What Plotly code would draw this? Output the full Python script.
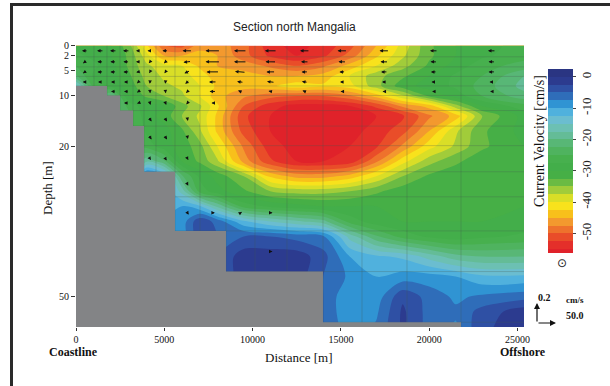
import plotly.graph_objects as go

# ---------------- data ----------------
dist_m = [0, 1000, 2000, 3000, 4000, 5000, 6000, 7000, 8000, 9500, 11000,
          12500, 14000, 15500, 17000, 18500, 20000, 21500, 23000, 25370]
depth_m = [0, 2, 4, 6, 8, 10, 12, 14, 17, 20, 23, 26, 29, 32, 35, 38, 42, 46, 50, 53, 56.5]

# along-shore current velocity (cm/s), rows = depth, cols = distance
velocity = [
    [-28, -29, -30, -34, -42, -50, -51, -46, -46, -49, -54, -56, -54, -51, -45, -39, -33, -30, -28, -27],
    [-27, -28, -30, -33, -39, -45, -45, -44, -45, -49, -53, -55, -53, -49, -43, -38, -33, -30, -28, -26],
    [-25, -27, -29, -33, -37, -39, -40, -43, -45, -46, -48, -50, -48, -44, -40, -36, -32, -29, -26, -24],
    [-22, -28, -29, -32, -36, -38, -39, -41, -44, -44, -45, -45, -44, -40, -36, -33, -30, -27, -25, -20],
    [-14, -26, -28, -31, -35, -37, -38, -40, -43, -44, -43, -41, -42, -41, -36, -31, -29, -27, -24, -19],
    [-14, -22, -20, -30, -33, -35, -37, -40, -44, -47, -49, -50, -50, -48, -44, -38, -32, -29, -25, -21],
    [-14, -22, -20, -26, -29, -30, -34, -37, -42, -50, -54, -56, -56, -55, -52, -47, -44, -36, -30, -26],
    [-14, -22, -20, -24, -29, -31, -35, -38, -43, -52, -55, -57, -57, -56, -55, -53, -48, -44, -35, -29],
    [-14, -22, -20, -24, -28, -29, -32, -37, -43, -51, -55, -57, -57, -56, -54, -51, -45, -38, -33, -29],
    [-14, -22, -20, -24, -26, -29, -31, -34, -40, -48, -54, -56, -56, -55, -53, -47, -41, -37, -33, -30],
    [-14, -22, -20, -24, -18, -22, -30, -33, -37, -46, -52, -55, -55, -54, -48, -41, -36, -33, -31, -30],
    [-14, -22, -20, -24, -5, -10, -22, -28, -31, -35, -43, -46, -46, -44, -40, -35, -32, -31, -30, -30],
    [-14, -22, -20, -24, -5, -10, -16, -26, -29, -32, -35, -36, -36, -35, -33, -31, -30, -30, -30, -30],
    [-14, -22, -20, -24, -5, -10, -10, -12, -18, -26, -28, -29, -30, -30, -30, -30, -30, -30, -30, -30],
    [-14, -22, -20, -24, -5, -10, -9, -3, -6, -12, -15, -17, -19, -26, -29, -30, -30, -30, -30, -29],
    [-14, -22, -20, -24, -5, -10, -9, -3, -5, -5, -5, -6, -7, -16, -22, -26, -28, -29, -28, -27],
    [-14, -22, -20, -24, -5, -10, -9, -3, -5, -1, -1, -1, -4, -10, -12, -13, -16, -19, -20, -20],
    [-14, -22, -20, -24, -5, -10, -9, -3, -5, -1, -1, -1, -5, -8, -10, -9, -9, -10, -12, -12],
    [-14, -22, -20, -24, -5, -10, -9, -3, -5, -1, -1, -1, -5, -10, -9, -3, -6, -8, -7, -6],
    [-14, -22, -20, -24, -5, -10, -9, -3, -5, -1, -1, -1, -5, -10, -8, -2, -6, -7, -4, -1],
    [-14, -22, -20, -24, -5, -10, -9, -3, -5, -1, -1, -1, -5, -9, -7, -2, -6, -8, -3, -1],
]

# stepped sea bottom: edges (m) and bottom depth (m) of each step
seabed_edges = [0, 1755, 2492, 3228, 3851, 5606, 8494, 13986, 21801]
seabed_depth = [8.0, 9.9, 12.9, 16.0, 25.1, 36.9, 45.0, 55.1]

# measurement cell grid
grid_x = [1019, 1755, 2492, 3228, 3851, 4530, 5606, 7022, 8494, 10136,
          11948, 13986, 16195, 18743, 21801]
grid_depth = [2.2, 4.2, 6.1, 8.0, 9.9, 12.9, 16.0, 19.9, 25.1, 30.1, 36.9, 45.0, 55.1]

# in-section current vectors (u horizontal cm/s, w vertical cm/s, + = up)
arrow_x = [510, 1387, 2123, 2860, 3539, 4190, 5068, 6314, 7758, 9315,
           11042, 12967, 15091, 17469, 20272, 23556]
arrow_depth = [1, 3.2, 5.2, 7.2, 9.1, 11.4, 14.6, 18.2, 22.5, 27.6, 33.3, 41, 50]
N = None
arrow_u = [
    [-16, -18, -18, -18, -13, -13, -16, -26, -39, -34, -32, -26, -26, -26, -21, -21],
    [-11, -16, -16, -16, -13, -6, -8, -21, -39, -34, -29, -21, -21, -21, -18, -18],
    [-11, -16, -16, -16, -12, -4, -5, -16, -34, -29, -24, -18, -16, -18, -16, -18],
    [-12, -13, -13, -13, -8, -1, -1, -12, -21, -18, -21, -16, -13, -13, -13, -13],
    [N, N, -13, -13, -8, 1, 1, -8, -18, -13, -13, -13, -10, -10, -10, -10],
    [N, N, N, -13, -8, 3, 4, -6, -8, -5, -4, -4, -4, -4, -4, -4],
    [N, N, N, N, -5, 8, 8, 2, -4, 3, -4, -4, -4, -4, -4, -4],
    [N, N, N, N, N, 8, 8, 2, -4, 3, -4, -4, -4, -4, -4, -4],
    [N, N, N, N, N, 5, 6, 4, -4, -4, -4, -4, -4, -4, -4, -4],
    [N, N, N, N, N, N, N, 4, 5, -4, -4, -4, -4, -4, -4, -4],
    [N, N, N, N, N, N, N, 6, 10, 8, 8, -4, 3, -4, -4, -4],
    [N, N, N, N, N, N, N, N, N, 3, 8, -4, 3, -4, -4, -4],
    [N, N, N, N, N, N, N, N, N, N, N, N, 3, -4, -4, -4],
]
arrow_w = [
    [0, 0, 0, 0, 0, 0, 0, 0, 0, 0, 0, 0, 0, 0, 0, 0],
    [-0.03, 0, 0, 0, 0, -0.03, -0.03, -0.01, 0, 0, 0, 0, 0, 0, 0, 0],
    [-0.03, 0, 0, 0, -0.01, -0.03, -0.03, -0.03, 0, 0.01, 0, 0, 0, 0, 0, 0],
    [0, 0, 0, 0, -0.03, -0.04, -0.04, -0.04, 0, 0.01, 0.01, 0.01, 0, 0, 0, 0],
    [N, N, 0, 0, -0.02, -0.04, -0.04, -0.03, 0, 0.02, 0.01, 0.02, 0, 0, 0, 0],
    [N, N, N, 0, -0.01, -0.04, -0.04, -0.03, 0, 0.02, 0, 0, 0, 0, 0, 0],
    [N, N, N, N, 0, -0.05, -0.05, -0.04, 0, -0.02, 0, 0, 0, 0, 0, 0],
    [N, N, N, N, N, -0.05, -0.05, -0.04, 0, -0.02, 0, 0, 0, 0, 0, 0],
    [N, N, N, N, N, -0.03, -0.04, -0.03, 0, 0, 0, 0, 0, 0, 0, 0],
    [N, N, N, N, N, N, N, -0.03, -0.02, 0, 0, 0, 0, 0, 0, 0],
    [N, N, N, N, N, N, N, -0.04, 0, 0.02, 0, 0, -0.02, 0, 0, 0],
    [N, N, N, N, N, N, N, N, N, -0.02, 0, 0, -0.02, 0, 0, 0],
    [N, N, N, N, N, N, N, N, N, N, N, N, -0.02, 0, 0, 0],
]

x_ticks = [0, 5000, 10000, 15000, 20000, 25000]
y_ticks = [0, 2, 5, 10, 20, 50]
cb_ticks = [0, -10, -20, -30, -40, -50]

# ---------------- styling ----------------
W, H = 610, 386
ML, MR, MT, MB = 76, 86, 44, 59
PW, PH = W - ML - MR, H - MT - MB
x_range = [0, 25370]
y_range = [56.05, -0.36]
SERIF = "Liberation Serif, Times New Roman, serif"
SANS = "Liberation Sans, Arial, sans-serif"

zmin, zmax = -55.7, 2.5
stops = [
    (2.5, "#2a3582"), (0, "#2c3b8f"), (-2.5, "#2f4fa3"), (-5, "#2f6cb8"),
    (-7.5, "#2e93d2"), (-10, "#4eb0de"), (-12.5, "#6bbdd2"), (-15, "#6dc0b5"),
    (-18, "#63bc94"), (-21, "#55b56d"), (-25, "#48b04f"), (-30, "#40ad47"),
    (-33, "#6cbb43"), (-35.5, "#a2cc3a"), (-38, "#d9de27"), (-40.5, "#f8e21c"),
    (-43, "#f8c11b"), (-45.5, "#f39a2e"), (-48, "#ee742c"), (-50.5, "#e94f29"),
    (-53, "#e4302a"), (-55.7, "#e0222a"),
]
colorscale = sorted([[(v - zmin) / (zmax - zmin), c] for v, c in stops])

fig = go.Figure()

fig.add_trace(go.Contour(
    x=dist_m, y=depth_m, z=velocity,
    zmin=zmin, zmax=zmax, colorscale=colorscale,
    autocontour=False,
    contours=dict(start=-55, end=0, size=2.5, coloring="fill", showlines=False),
    line=dict(width=0, smoothing=0.9),
    hoverinfo="skip",
    colorbar=dict(
        x=(548 - ML) / PW, xanchor="left", xref="paper", xpad=0, ypad=0,
        y=1 - (161 - MT) / PH, yanchor="middle",
        len=184 / PH, lenmode="fraction", thickness=25,
        outlinewidth=0, tickvals=cb_ticks, ticktext=[str(v) for v in cb_ticks],
        ticks="outside", ticklen=3, tickangle=-90,
        tickfont=dict(family=SERIF, size=13, color="#222"),
    ),
))

# cell grid lines
gx, gy = [], []
for xv in grid_x:
    gx += [xv, xv, None]
    gy += [0, 57, None]
for dv in grid_depth:
    gx += [0, x_range[1], None]
    gy += [dv, dv, None]
fig.add_trace(go.Scatter(x=gx, y=gy, mode="lines", hoverinfo="skip",
                         line=dict(color="rgba(70,90,80,0.35)", width=0.8),
                         showlegend=False))

# sea bottom
bx, by = [seabed_edges[0]], [57]
for i, dv in enumerate(seabed_depth):
    bx += [seabed_edges[i], seabed_edges[i + 1]]
    by += [dv, dv]
bx += [seabed_edges[-1], seabed_edges[0]]
by += [57, 57]
fig.add_trace(go.Scatter(x=bx, y=by, mode="lines", fill="toself",
                         fillcolor="#838486", line=dict(width=0, color="#838486"),
                         hoverinfo="skip", showlegend=False))

annotations = []
SX, SWV = 0.38, 95.0
m_per_px = (x_range[1] - x_range[0]) / PW
d_per_px = (y_range[0] - y_range[1]) / PH
for i, dv in enumerate(arrow_depth):
    for j, xs in enumerate(arrow_x):
        u = arrow_u[i][j]
        if u is None:
            continue
        w = arrow_w[i][j]
        dxp = u * SX
        dyp = -w * SWV
        annotations.append(dict(
            x=xs + 0.5 * dxp * m_per_px, y=dv + 0.5 * dyp * d_per_px,
            xref="x", yref="y", ax=-dxp, ay=-dyp, text="",
            showarrow=True, arrowhead=2, arrowsize=0.7, arrowwidth=1,
            arrowcolor="#111", standoff=0))

def px_x(p):
    return (p - ML) / PW

def px_y(p):
    return 1 - (p - MT) / PH

texts = [
    ("Section north Mangalia", 294, 27, SANS, 12, 0, "#222"),
    ("Depth [m]", 47, 188, SERIF, 13, -90, "#111"),
    ("Distance [m]", 299, 358, SERIF, 13, 0, "#111"),
    ("<b>Coastline</b>", 73, 352, SERIF, 12, 0, "#111"),
    ("<b>Offshore</b>", 523, 352, SERIF, 12, 0, "#111"),
    ("Current Velocity [cm/s]", 539, 141, SERIF, 14, -90, "#111"),
    ("⊙", 562, 263, "DejaVu Sans", 12, 0, "#222"),
    ("<b>0.2</b>", 544, 297, SERIF, 10, 0, "#111"),
    ("<b>cm/s</b>", 575, 300, SERIF, 9, 0, "#111"),
    ("<b>50.0</b>", 575, 315, SERIF, 10, 0, "#111"),
]
for t, px, py, fam, sz, ang, col in texts:
    annotations.append(dict(text=t, x=px_x(px), y=px_y(py), xref="paper", yref="paper",
                            xanchor="center", yanchor="middle", showarrow=False,
                            textangle=ang, font=dict(family=fam, size=sz, color=col)))

# reference arrows
annotations.append(dict(x=px_x(537), y=px_y(303), xref="paper", yref="paper", ax=0, ay=20,
                        text="", showarrow=True, arrowhead=2, arrowsize=1, arrowwidth=1.2,
                        arrowcolor="#111", standoff=0))
annotations.append(dict(x=px_x(556), y=px_y(323), xref="paper", yref="paper", ax=-19, ay=0,
                        text="", showarrow=True, arrowhead=2, arrowsize=1, arrowwidth=1.2,
                        arrowcolor="#111", standoff=0))

shapes = [
    dict(type="line", xref="paper", yref="paper", x0=px_x(11.5), x1=px_x(11.5),
         y0=px_y(4.5), y1=px_y(386), line=dict(color="#2a2a2a", width=3)),
    dict(type="line", xref="paper", yref="paper", x0=px_x(10), x1=px_x(610),
         y0=px_y(4.5), y1=px_y(4.5), line=dict(color="#2a2a2a", width=3)),
]

fig.update_layout(
    width=W, height=H, margin=dict(l=ML, r=MR, t=MT, b=MB, autoexpand=False),
    paper_bgcolor="white", plot_bgcolor="white", showlegend=False,
    annotations=annotations, shapes=shapes,
    xaxis=dict(range=x_range, tickvals=x_ticks, ticktext=[str(v) for v in x_ticks],
               ticks="outside", ticklen=3, tickcolor="#333", showgrid=False, zeroline=False,
               tickfont=dict(family=SERIF, size=10, color="#111"), showline=False),
    yaxis=dict(range=y_range, tickvals=y_ticks, ticktext=[str(v) for v in y_ticks],
               ticks="outside", ticklen=4, tickcolor="#333", showgrid=False, zeroline=False,
               tickfont=dict(family=SERIF, size=10, color="#111"), showline=False),
)

fig.write_html("out.html")
